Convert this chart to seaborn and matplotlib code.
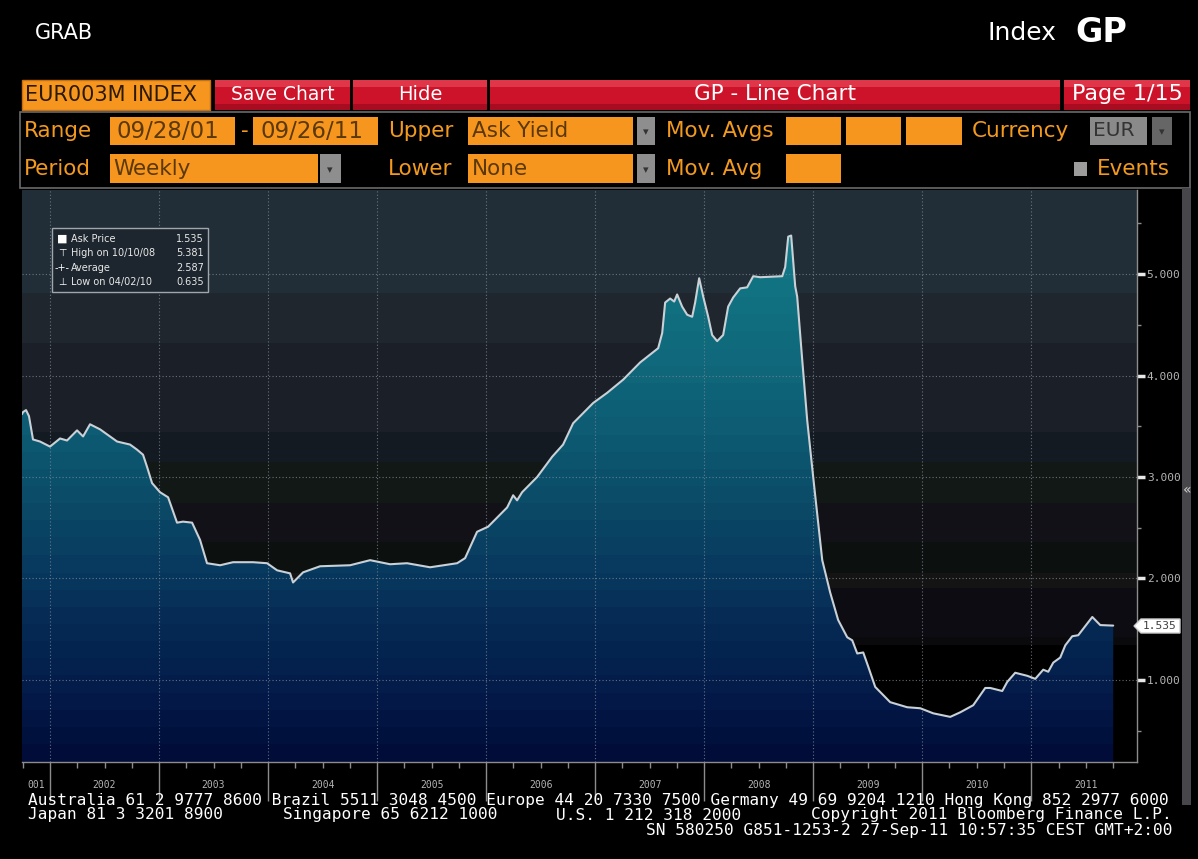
import numpy as np
import matplotlib
matplotlib.use("Agg")
import matplotlib.pyplot as plt
from matplotlib.patches import Rectangle, PathPatch, Polygon
from matplotlib.colors import to_rgb
from matplotlib import font_manager
import matplotlib.transforms as mtransforms
import seaborn as sns

# ---------------- data ----------------
years = [2001.743, 2001.752, 2001.780, 2001.807, 2001.844, 2001.908, 2002.000, 2002.092,
         2002.156, 2002.248, 2002.303, 2002.367, 2002.459, 2002.615, 2002.734, 2002.798,
         2002.853, 2002.890, 2002.936, 2003.009, 2003.083, 2003.165, 2003.220, 2003.303,
         2003.376, 2003.440, 2003.560, 2003.679, 2003.862, 2003.991, 2004.083, 2004.202,
         2004.229, 2004.321, 2004.477, 2004.752, 2004.936, 2005.119, 2005.275, 2005.486,
         2005.734, 2005.807, 2005.917, 2006.018, 2006.193, 2006.248, 2006.284, 2006.330,
         2006.468, 2006.606, 2006.706, 2006.798, 2006.982, 2007.110, 2007.257, 2007.413,
         2007.578, 2007.615, 2007.642, 2007.688, 2007.725, 2007.752, 2007.798, 2007.844,
         2007.890, 2007.917, 2007.954, 2007.991, 2008.037, 2008.073, 2008.119, 2008.174,
         2008.220, 2008.266, 2008.330, 2008.394, 2008.450, 2008.514, 2008.716, 2008.743,
         2008.771, 2008.798, 2008.835, 2008.853, 2008.899, 2008.945, 2009.000, 2009.083,
         2009.156, 2009.229, 2009.312, 2009.358, 2009.404, 2009.459, 2009.505, 2009.569,
         2009.706, 2009.862, 2009.982, 2010.101, 2010.257, 2010.349, 2010.468, 2010.578,
         2010.624, 2010.734, 2010.780, 2010.853, 2010.963, 2011.037, 2011.110, 2011.156,
         2011.202, 2011.266, 2011.312, 2011.376, 2011.431, 2011.560, 2011.633, 2011.752]
rates = [3.62, 3.64, 3.66, 3.60, 3.37, 3.35, 3.30, 3.38,
         3.36, 3.46, 3.40, 3.52, 3.47, 3.35, 3.32, 3.27,
         3.22, 3.10, 2.94, 2.85, 2.80, 2.55, 2.56, 2.55,
         2.38, 2.15, 2.13, 2.16, 2.16, 2.15, 2.08, 2.05,
         1.96, 2.06, 2.12, 2.13, 2.18, 2.14, 2.15, 2.11,
         2.15, 2.20, 2.46, 2.51, 2.70, 2.82, 2.77, 2.85,
         3.00, 3.20, 3.32, 3.53, 3.73, 3.83, 3.96, 4.13,
         4.27, 4.42, 4.72, 4.76, 4.73, 4.80, 4.68, 4.60,
         4.58, 4.72, 4.96, 4.78, 4.58, 4.40, 4.34, 4.40,
         4.68, 4.77, 4.86, 4.87, 4.98, 4.97, 4.98, 5.07,
         5.37, 5.381, 4.88, 4.78, 4.16, 3.56, 3.00, 2.18,
         1.86, 1.59, 1.42, 1.39, 1.26, 1.27, 1.13, 0.93,
         0.78, 0.73, 0.72, 0.67, 0.635, 0.68, 0.75, 0.92,
         0.92, 0.89, 0.98, 1.07, 1.04, 1.01, 1.10, 1.08,
         1.17, 1.22, 1.34, 1.43, 1.44, 1.62, 1.54, 1.535]

year_boundaries = [2002, 2003, 2004, 2005, 2006, 2007, 2008, 2009, 2010, 2011]
year_labels = ["001", "2002", "2003", "2004", "2005", "2006", "2007", "2008", "2009", "2010", "2011"]
year_label_pos = [2001.87, 2002.5, 2003.5, 2004.5, 2005.5, 2006.5, 2007.5, 2008.5, 2009.5, 2010.5, 2011.5]
y_ticks = [1, 2, 3, 4, 5]
y_tick_labels = ["1.000", "2.000", "3.000", "4.000", "5.000"]
legend_names = ["Ask Price", "High on 10/10/08", "Average", "Low on 04/02/10"]
legend_values = ["1.535", "5.381", "2.587", "0.635"]
legend_icons = ["\u25A0", "\u22A4", "-+-", "\u22A5"]
last_value = "1.535"
footer1 = "Australia 61 2 9777 8600 Brazil 5511 3048 4500 Europe 44 20 7330 7500 Germany 49 69 9204 1210 Hong Kong 852 2977 6000"
footer2 = ["Japan 81 3 3201 8900", "Singapore 65 6212 1000", "U.S. 1 212 318 2000",
           "Copyright 2011 Bloomberg Finance L.P."]
footer3 = "SN 580250 G851-1253-2 27-Sep-11 10:57:35 CEST GMT+2:00"

# ---------------- style ----------------
sns.set_theme(style="dark")
SANS = "DejaVu Sans"
MONO = "DejaVu Sans Mono"
plt.rcParams['font.family'] = [SANS]

W, H = 1198, 859
fig = plt.figure(figsize=(W / 100, H / 100), dpi=100, facecolor="black")


def fx(px):
    return px / W


def fy(py):
    return 1 - py / H


def rect(x0, y0, x1, y1, **kw):
    fig.patches.append(Rectangle((fx(x0), fy(y1)), (x1 - x0) / W, (y1 - y0) / H,
                                 transform=fig.transFigure, figure=fig, **kw))


def txt(x, y, s, **kw):
    kw.setdefault("va", "center")
    fig.text(fx(x), fy(y), s, **kw)


ORANGE = "#f7961e"
ORANGE_TXT = "#f39a1e"
RED = "#cc1329"
RED_HI = "#e0364a"
RED_LO = "#a80c20"
BOXTXT = "#5a3808"
LBL = 15.5

# header
txt(35, 33, "GRAB", color="white", fontsize=15)
txt(988, 33, "Index", color="white", fontsize=18)
txt(1075, 33, "GP", color="white", fontsize=24, fontweight="bold")

# red bar
rect(22, 80, 210, 110, facecolor=ORANGE, edgecolor="#c87010", lw=1)
txt(25, 95, "EUR003M INDEX", color="#2a1a05", fontsize=15)
for (a, b, s, fs) in [(215, 350, "Save Chart", 13.5), (353, 487, "Hide", 14),
                      (490, 1060, "GP - Line Chart", 15.5), (1064, 1190, "Page 1/15", 16)]:
    rect(a, 80, b, 110, facecolor=RED, edgecolor="none")
    rect(a, 80, b, 87, facecolor=RED_HI, edgecolor="none")
    rect(a, 104, b, 110, facecolor=RED_LO, edgecolor="none")
    txt((a + b) / 2, 94, s, color="white", fontsize=fs, ha="center")

# control panel
rect(20, 112, 1190, 188, facecolor="black", edgecolor="#6a6a6a", lw=1.2)
txt(24, 131, "Range", color=ORANGE_TXT, fontsize=LBL)
rect(110, 117, 235, 145, facecolor=ORANGE, edgecolor="none")
txt(117, 131, "09/28/01", color=BOXTXT, fontsize=16.5)
txt(241, 131, "-", color=ORANGE_TXT, fontsize=LBL)
rect(253, 117, 378, 145, facecolor=ORANGE, edgecolor="none")
txt(260, 131, "09/26/11", color=BOXTXT, fontsize=16.5)
txt(388, 131, "Upper", color=ORANGE_TXT, fontsize=LBL)
rect(468, 117, 633, 145, facecolor=ORANGE, edgecolor="none")
txt(472, 131, "Ask Yield", color=BOXTXT, fontsize=LBL)
rect(637, 117, 655, 145, facecolor="#8e8e8e", edgecolor="none")
txt(646, 132, "\u25BE", color="#333333", fontsize=8, ha="center")
txt(666, 131, "Mov. Avgs", color=ORANGE_TXT, fontsize=LBL)
for a, b in [(786, 841), (846, 901), (906, 962)]:
    rect(a, 117, b, 145, facecolor=ORANGE, edgecolor="none")
txt(972, 131, "Currency", color=ORANGE_TXT, fontsize=LBL)
rect(1090, 117, 1147, 145, facecolor="#8a8a8a", edgecolor="none")
txt(1093, 131, "EUR", color="#333333", fontsize=14.5)
rect(1152, 117, 1172, 145, facecolor="#666666", edgecolor="none")
txt(1162, 132, "\u25BE", color="#333333", fontsize=8, ha="center")

txt(24, 169, "Period", color=ORANGE_TXT, fontsize=LBL)
rect(110, 154, 318, 183, facecolor=ORANGE, edgecolor="none")
txt(113, 169, "Weekly", color=BOXTXT, fontsize=LBL)
rect(320, 154, 341, 183, facecolor="#8e8e8e", edgecolor="none")
txt(330, 170, "\u25BE", color="#333333", fontsize=8, ha="center")
txt(388, 169, "Lower", color=ORANGE_TXT, fontsize=LBL)
rect(468, 154, 633, 183, facecolor=ORANGE, edgecolor="none")
txt(472, 169, "None", color=BOXTXT, fontsize=LBL)
rect(637, 154, 655, 183, facecolor="#8e8e8e", edgecolor="none")
txt(646, 170, "\u25BE", color="#333333", fontsize=8, ha="center")
txt(666, 169, "Mov. Avg", color=ORANGE_TXT, fontsize=LBL)
rect(786, 154, 841, 183, facecolor=ORANGE, edgecolor="none")
rect(1074, 162, 1087, 176, facecolor="#9c9c9c", edgecolor="none")
txt(1097, 169, "Events", color=ORANGE_TXT, fontsize=LBL)

# scroll bar
rect(1182, 188, 1191, 805, facecolor="#47474b", edgecolor="none")
txt(1187, 490, "\u00AB", color="#d0d0d0", fontsize=10, ha="center")

# ---------------- chart ----------------
X0, X1 = 2001.743, 2011.97
Y0, Y1 = 0.19, 5.83
ax = fig.add_axes([fx(22), fy(762), (1137 - 22) / W, (762 - 190) / H])
ax.set_facecolor("black")

# banded background
bg_edges = [4.82, 4.32, 3.44, 3.15, 2.74, 2.35, 2.06, 1.91, 1.42, 1.34, -10]
bg_cols = ["#222e37", "#1f262e", "#1b1f27", "#141a22", "#121816", "#121118",
           "#0c1110", "#141414", "#0c0c12", "#0a0a0c", "#000000"]
N = 800
vals = np.linspace(Y0, Y1, N)
bg = np.zeros((N, 1, 3))
for i, v in enumerate(vals):
    for e, c in zip(bg_edges, bg_cols):
        if v >= e:
            bg[i, 0] = to_rgb(c)
            break
ax.imshow(bg, extent=[X0, X1, Y0, Y1], origin="lower", aspect="auto",
          interpolation="nearest", zorder=0)

# banded area gradient
stop_v = [0.19, 0.5, 1.0, 1.6, 2.2, 2.8, 3.4, 4.0, 4.8, 5.4]
stop_c = ["#010b36", "#021340", "#041d4b", "#062c56", "#093c60", "#0b4c69",
          "#0d5a72", "#0f6679", "#117282", "#137a8a"]
stop_rgb = np.array([to_rgb(c) for c in stop_c])
qv = Y0 + np.floor((vals - Y0) / 0.17) * 0.17 + 0.085
grad = np.stack([np.interp(qv, stop_v, stop_rgb[:, k]) for k in range(3)], axis=1)[:, None, :]
im = ax.imshow(grad, extent=[X0, X1, Y0, Y1], origin="lower", aspect="auto",
               interpolation="nearest", zorder=1)
poly = ax.fill_between(years, rates, Y0, color="none", lw=0)
clip = PathPatch(poly.get_paths()[0], transform=ax.transData, facecolor="none", edgecolor="none")
ax.add_patch(clip)
im.set_clip_path(clip)

# grid
for yv in y_ticks:
    ax.axhline(yv, color="#7a8690", lw=0.8, ls=(0, (1, 2)), zorder=3, alpha=0.8)
for xv in year_boundaries:
    ax.axvline(xv, color="#7a8690", lw=0.8, ls=(0, (1, 2)), zorder=3, alpha=0.8)

sns.lineplot(x=years, y=rates, ax=ax, color="#c9d0d6", lw=1.5, zorder=4)

ax.set_xlim(X0, X1)
ax.set_ylim(Y0, Y1)
ax.grid(False)
for s in ["left", "top"]:
    ax.spines[s].set_visible(False)
for s in ["right", "bottom"]:
    ax.spines[s].set_visible(True)
    ax.spines[s].set_color("#8c8c8c")
    ax.spines[s].set_linewidth(1)

# y axis (right)
ax.yaxis.tick_right()
ax.set_yticks(y_ticks)
ax.set_yticklabels(y_tick_labels, family=MONO, fontsize=8, color="#b4b4b4")
ax.set_yticks([0.5, 1.5, 2.5, 3.5, 4.5, 5.5], minor=True)
ax.tick_params(axis="y", which="major", direction="out", length=6, width=2.5,
               color="#e8e8e8", pad=1, left=False, right=True)
ax.tick_params(axis="y", which="minor", direction="out", length=3, width=1,
               color="#8c8c8c", left=False, right=True)

# x axis (bottom)
ax.set_xticks(year_boundaries)
ax.set_xticklabels([])
ax.set_xticks([y + q for y in range(2001, 2012) for q in (0.25, 0.5, 0.75)
               if X0 < y + q < X1], minor=True)
ax.tick_params(axis="x", which="major", direction="out", length=28, width=1,
               color="#8c8c8c", bottom=True)
ax.tick_params(axis="x", which="minor", direction="out", length=4, width=1,
               color="#8c8c8c", bottom=True)
ax.set_xlabel("")
ax.set_ylabel("")
tr = mtransforms.blended_transform_factory(ax.transData, ax.transAxes)
for p, lab in zip(year_label_pos, year_labels):
    ax.text(p, -23 / 572, lab, transform=tr, ha="center", va="center",
            family=MONO, fontsize=7, color="#b4b4b4", clip_on=False)

# legend box
rect(52, 228, 208, 292, facecolor="#1d262e", edgecolor="#a0a6ac", lw=1, zorder=10)
for i, (ic, nm, vl) in enumerate(zip(legend_icons, legend_names, legend_values)):
    yy = 239 + i * 14.3
    txt(62, yy, ic, color="white", fontsize=7 if i else 8, ha="center", zorder=11)
    txt(71, yy, nm, color="#e8e8e8", fontsize=7, zorder=11)
    txt(204, yy, vl, color="#e8e8e8", fontsize=7, ha="right", zorder=11)

# last value tag
fig.patches.append(Polygon([(fx(1134), fy(626)), (fx(1141), fy(619)), (fx(1180), fy(619)),
                            (fx(1180), fy(633)), (fx(1141), fy(633))], closed=True,
                           transform=fig.transFigure, figure=fig, facecolor="white",
                           edgecolor="#cccccc", zorder=10))
txt(1160, 626, last_value, color="#404040", fontsize=8, ha="center", family=[MONO], zorder=11)

# footer
FS = 11.65
txt(28, 800, footer1, color="white", fontsize=FS, family=[MONO])
for xp, s in zip([28, 283, 556, 811], footer2):
    txt(xp, 815, s, color="white", fontsize=FS, family=[MONO])
txt(1172, 830, footer3, color="white", fontsize=FS, ha="right", family=[MONO])

fig.savefig("out.png", dpi=100, facecolor="black")
